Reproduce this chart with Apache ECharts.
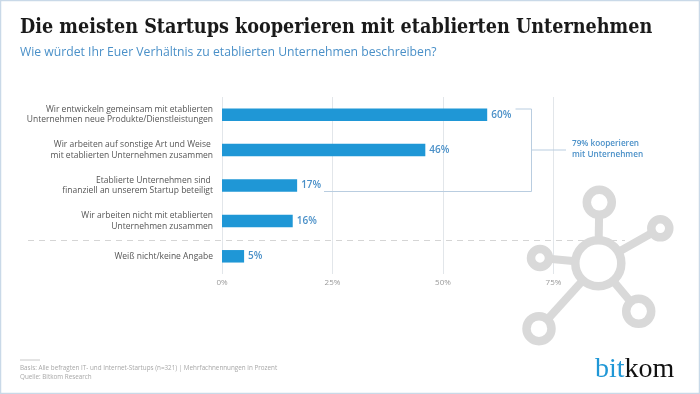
<!DOCTYPE html>
<html><head><meta charset="utf-8">
<style>html,body{margin:0;padding:0;background:#fff}#c{width:700px;height:394px}</style>
<script src="https://cdn.jsdelivr.net/npm/echarts@6/dist/echarts.min.js"></script>
</head><body><div id="c"></div>
<script>
const categories = [
  "Wir entwickeln gemeinsam mit etablierten\nUnternehmen neue Produkte/Dienstleistungen",
  "Wir arbeiten auf sonstige Art und Weise \nmit etablierten Unternehmen zusammen",
  "Etablierte Unternehmen sind \nfinanziell an unserem Startup beteiligt",
  "Wir arbeiten nicht mit etablierten\nUnternehmen zusammen",
  "Weiß nicht/keine Angabe"
];
const values = [60, 46, 17, 16, 5];
const titleText = "Die meisten Startups kooperieren mit etablierten Unternehmen";
const subtitleText = "Wie würdet Ihr Euer Verhältnis zu etablierten Unternehmen beschreiben?";
const bracketText = "79% kooperieren\nmit Unternehmen";
const footerText = "Basis: Alle befragten IT- und Internet-Startups (n=321) | Mehrfachnennungen in Prozent\nQuelle: Bitkom Research";

const BLUE = "#1f97d6", TXT = "#4a90c8", BODY = "Open Sans", LINE = "#b9cde0", ICON = "#d9d9d9";
const nodes = [
  {x:599.3,y:202.3,r:12.5,w:8.5},
  {x:660.3,y:228.3,r:9,w:8.5},
  {x:540,y:258,r:9,w:8.5},
  {x:638.7,y:311.3,r:12.5,w:8.5},
  {x:539,y:328.7,r:12.5,w:8.5}
];
const hub = {x:598.3,y:263.3,r:23};
const iconParts = [];
nodes.forEach(n => {
  const dx = n.x-hub.x, dy = n.y-hub.y, d = Math.hypot(dx,dy);
  iconParts.push({type:"line",z:10,shape:{x1:hub.x+dx/d*hub.r,y1:hub.y+dy/d*hub.r,x2:n.x-dx/d*n.r,y2:n.y-dy/d*n.r},style:{stroke:ICON,lineWidth:8}});
  iconParts.push({type:"circle",z:10,shape:{cx:n.x,cy:n.y,r:n.r},style:{fill:"#fff",stroke:ICON,lineWidth:n.w}});
});
iconParts.push({type:"circle",z:10,shape:{cx:hub.x,cy:hub.y,r:hub.r},style:{fill:"#fff",stroke:ICON,lineWidth:8.5}});

const chart = echarts.init(document.getElementById("c"), null, {renderer:"canvas"});
chart.setOption({
  animation:false,
  backgroundColor:"#fff",
  textStyle:{fontFamily:BODY},
  grid:{left:222,top:97,width:331.5,height:177,containLabel:false},
  xAxis:{type:"value",min:0,max:75,interval:25,
    axisLine:{show:false},axisTick:{show:false},
    splitLine:{show:true,lineStyle:{color:"#e2e6ea",width:1}},
    axisLabel:{formatter:"{value}%",color:"#9a9a9a",fontSize:8,margin:5,fontFamily:BODY}},
  yAxis:{type:"category",inverse:true,data:categories,
    axisLine:{show:false},axisTick:{show:false},
    axisLabel:{color:"#555",fontSize:8.5,lineHeight:10.5,margin:9,align:"right",padding:[9,0,0,0],fontFamily:BODY}},
  series:[{type:"bar",data:values,barWidth:12.5,
    itemStyle:{color:BLUE},
    label:{show:true,position:"right",distance:4,formatter:"{c}%",color:TXT,fontSize:10,fontWeight:600,padding:[3,0,0,0],fontFamily:BODY}}],
  graphic:[
    {type:"rect",z:0,silent:true,shape:{x:0.5,y:0.5,width:699,height:393},style:{fill:"none",stroke:"#c9d9e8",lineWidth:1.5}},
    {type:"text",left:20,top:18,style:{text:titleText,fontFamily:"DejaVu Serif Condensed",fontWeight:"bold",fontSize:19.6,fill:"#1a1a1a"}},
    {type:"text",left:20,top:47,style:{text:subtitleText,fontFamily:BODY,fontSize:12.2,fill:"#4a90c8"}},
    {type:"polyline",z:5,shape:{points:[[515.5,109],[531.5,109],[531.5,191.5],[324,191.5]]},style:{fill:"none",stroke:LINE,lineWidth:1}},
    {type:"line",z:5,shape:{x1:531.5,y1:150,x2:566,y2:150},style:{stroke:LINE,lineWidth:1}},
    {type:"text",left:572,top:138.5,style:{text:bracketText,fontFamily:BODY,fontSize:8.2,fontWeight:600,lineHeight:10.5,fill:TXT}},
    {type:"line",z:5,shape:{x1:28,y1:240.5,x2:625,y2:240.5},style:{stroke:"#d5d5d5",lineWidth:1,lineDash:[6,5]}},
    ...iconParts,
    {type:"line",shape:{x1:20,y1:360,x2:40,y2:360},style:{stroke:"#c8c8c8",lineWidth:1}},
    {type:"text",left:20,top:364,style:{text:footerText,fontFamily:BODY,fontSize:6.3,lineHeight:8.5,fill:"#a8a8a8"}},
    {type:"text",left:595,top:356,z:12,style:{
      rich:{a:{fill:"#1f97d6",fontFamily:"Liberation Serif",fontSize:28},b:{fill:"#111",fontFamily:"Liberation Serif",fontSize:28}},
      text:"{a|bit}{b|kom}"}}
  ]
});
</script></body></html>
